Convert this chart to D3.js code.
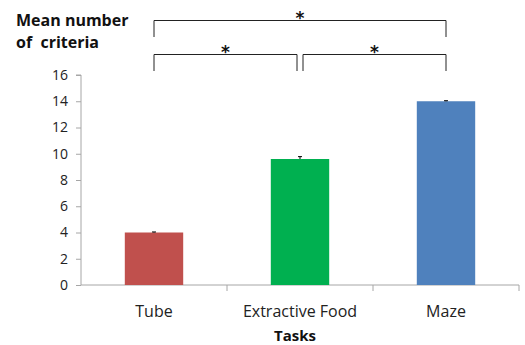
<!DOCTYPE html>
<html><head><meta charset="utf-8">
<script src="https://cdn.jsdelivr.net/npm/d3@7"></script>
<style>body{margin:0;background:#fff}svg{display:block}text{font-family:"Open Sans",sans-serif}</style>
</head><body><svg id="c" width="525" height="345"></svg>
<script>
const categories = ["Tube", "Extractive Food", "Maze"];
const values = [4.0, 9.6, 14.0];
const errors = [0.04, 0.18, 0.04];
const colors = ["#C0504D", "#00B050", "#4F81BD"];
const yTicks = [0, 2, 4, 6, 8, 10, 12, 14, 16];
const comparisons = [
  {from: 0, to: 2, level: 1, label: "*"},
  {from: 0, to: 1, level: 0, label: "*"},
  {from: 1, to: 2, level: 0, label: "*"}
];

const svg = d3.select("#c");
const x = d3.scaleBand().domain(categories).range([81, 519]).paddingInner(0.6).paddingOuter(0.3);
const y = d3.scaleLinear().domain([0, 16]).range([285, 75]);

// y axis
const ya = svg.append("g").attr("transform", "translate(81,0)")
  .call(d3.axisLeft(y).tickValues(yTicks).tickSize(5).tickPadding(8).tickFormat(d3.format("d")));
ya.select(".domain").attr("stroke", "#a6a6a6").attr("d", "M-5,75H0V285");
ya.selectAll(".tick line").attr("stroke", "#a6a6a6");
ya.selectAll(".tick text").attr("font-size", 14).attr("fill", "#222").style("font-family", "'Open Sans',sans-serif");

// x axis
const xa = svg.append("g").attr("transform", "translate(0,285)");
xa.append("line").attr("x1", 81).attr("x2", 519).attr("stroke", "#a6a6a6");
const bounds = [0, 1, 2, 3].map(i => 81 + i * x.step());
xa.selectAll("line.t").data(bounds.slice(1)).join("line").attr("class", "t")
  .attr("x1", d => d).attr("x2", d => d).attr("y1", 0).attr("y2", 6).attr("stroke", "#a6a6a6");
xa.selectAll("text").data(categories).join("text")
  .attr("x", d => x(d) + x.bandwidth() / 2).attr("y", 32).attr("text-anchor", "middle")
  .attr("font-size", 16).attr("fill", "#222").text(d => d);

// bars
svg.selectAll("rect.bar").data(values).join("rect").attr("class", "bar")
  .attr("x", (d, i) => x(categories[i])).attr("width", x.bandwidth())
  .attr("y", d => y(d)).attr("height", d => y(0) - y(d))
  .attr("fill", (d, i) => colors[i]);

// error bars
const eb = svg.selectAll("g.eb").data(values).join("g").attr("class", "eb");
eb.append("line").attr("x1", (d, i) => x(categories[i]) + x.bandwidth() / 2)
  .attr("x2", (d, i) => x(categories[i]) + x.bandwidth() / 2)
  .attr("y1", (d, i) => y(d)).attr("y2", (d, i) => y(d + errors[i])).attr("stroke", "#000");
eb.append("line").attr("x1", (d, i) => x(categories[i]) + x.bandwidth() / 2 - 2)
  .attr("x2", (d, i) => x(categories[i]) + x.bandwidth() / 2 + 2)
  .attr("y1", (d, i) => y(d + errors[i])).attr("y2", (d, i) => y(d + errors[i])).attr("stroke", "#000");

// significance brackets
const cx = i => x(categories[i]) + x.bandwidth() / 2;
const levelY = [54.5, 20.5];
const levelBottom = [71, 37];
comparisons.forEach(c => {
  const x1 = cx(c.from) + (c.level === 0 && c.from === 1 ? 3 : 0);
  const x2 = cx(c.to) - (c.level === 0 && c.to === 1 ? 3 : 0);
  svg.append("path").attr("fill", "none").attr("stroke", "#222").attr("stroke-width", 1)
    .attr("d", `M${x1},${levelBottom[c.level]}V${levelY[c.level]}H${x2}V${levelBottom[c.level]}`);
  svg.append("text").attr("x", (x1 + x2) / 2).attr("y", levelY[c.level] + 3)
    .attr("text-anchor", "middle").attr("font-size", 17).attr("font-weight", "bold").attr("fill", "#111")
    .style("font-family", "'DejaVu Sans',sans-serif")
    .text(c.label);
});

// titles
svg.append("text").attr("x", 16).attr("y", 26).attr("font-size", 16).attr("font-weight", "bold").attr("fill", "#111").text("Mean number");
svg.append("text").attr("x", 16).attr("y", 48).attr("font-size", 16).attr("font-weight", "bold").attr("fill", "#111").attr("xml:space", "preserve").style("white-space", "pre").text("of  criteria");
svg.append("text").attr("x", 295).attr("y", 341).attr("text-anchor", "middle").attr("font-size", 15).attr("font-weight", "bold").attr("fill", "#111").text("Tasks");
</script></body></html>
